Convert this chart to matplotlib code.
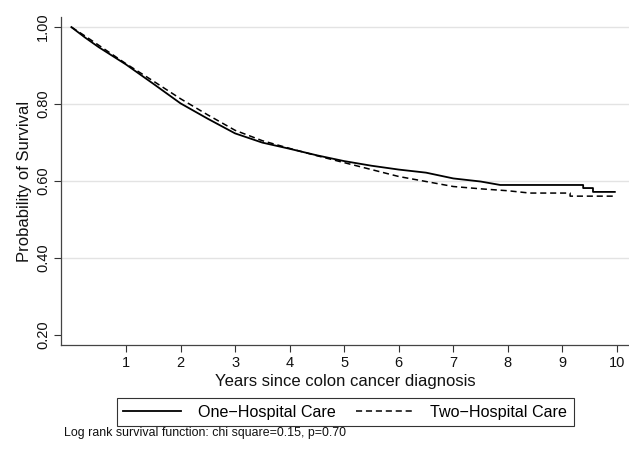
import numpy as np
import matplotlib
matplotlib.use("Agg")
import matplotlib.pyplot as plt

plt.rcParams['font.family'] = ['Liberation Sans', 'DejaVu Sans']

# Kaplan-Meier estimates (years, survival)
one_years = [0, 0.25, 0.5, 1, 1.5, 2, 2.5, 3, 3.5, 4, 4.5, 5, 5.5, 6, 6.5, 7,
             7.5, 7.86, 9.38, 9.38, 9.56, 9.56, 9.96]
one_surv = [1.0, 0.973, 0.948, 0.903, 0.853, 0.802, 0.762, 0.724, 0.700, 0.684,
            0.667, 0.652, 0.640, 0.630, 0.622, 0.607, 0.599, 0.590, 0.590, 0.582,
            0.582, 0.572, 0.572]

two_years = [0, 0.25, 0.5, 1, 1.5, 2, 2.5, 3, 3.5, 4, 4.5, 5, 5.5, 6, 6.5, 7,
             7.5, 8, 8.4, 9.14, 9.14, 9.96]
two_surv = [1.0, 0.977, 0.953, 0.905, 0.860, 0.814, 0.772, 0.732, 0.705, 0.685,
            0.666, 0.648, 0.630, 0.612, 0.599, 0.586, 0.580, 0.575, 0.569, 0.569,
            0.561, 0.561]

x_ticks = [1, 2, 3, 4, 5, 6, 7, 8, 9, 10]
y_ticks = [0.2, 0.4, 0.6, 0.8, 1.0]
y_labels = ["0.20", "0.40", "0.60", "0.80", "1.00"]

fig = plt.figure(figsize=(6.29, 4.5), dpi=100)
ax = fig.add_axes([0.097, 0.233, 0.903, 0.729])

ax.plot(one_years, one_surv, color="black", lw=1.3, label="One\u2212Hospital Care")
ax.plot(two_years, two_surv, color="black", lw=1.1, ls=(0, (4, 2.5)),
        label="Two\u2212Hospital Care")

ax.set_xlim(-0.19, 10.22)
ax.set_ylim(0.174, 1.026)
ax.set_xticks(x_ticks)
ax.set_yticks(y_ticks)
ax.set_yticklabels(y_labels, rotation=90, va="center")
ax.tick_params(direction="out", length=5, width=0.8, colors="#333333",
               labelcolor="#111111", labelsize=10.5, pad=3)

for side in ["top", "right"]:
    ax.spines[side].set_visible(False)
for side in ["left", "bottom"]:
    ax.spines[side].set_color("#444444")
    ax.spines[side].set_linewidth(0.9)

# light horizontal grid, none at the lowest tick
for y in y_ticks[1:]:
    ax.axhline(y, color="#e3e3e3", lw=1.0, zorder=0)

ax.set_xlabel("Years since colon cancer diagnosis", fontsize=12, labelpad=3,
              color="#111111")
ax.set_ylabel("Probability of Survival", fontsize=12, labelpad=3,
              color="#111111")

leg = fig.legend(loc="center", bbox_to_anchor=(0.549, 0.0838), ncol=2,
                 fontsize=11.6, frameon=True, fancybox=False, handlelength=3.6,
                 columnspacing=1.3, borderpad=0.4, handletextpad=1.0)
leg.get_frame().set_edgecolor("black")
leg.get_frame().set_linewidth(0.8)

fig.text(0.102, 0.038, "Log rank survival function: chi square=0.15, p=0.70",
         fontsize=8.9, va="center", color="#111111")

fig.savefig("out.png", dpi=100, facecolor="white")
